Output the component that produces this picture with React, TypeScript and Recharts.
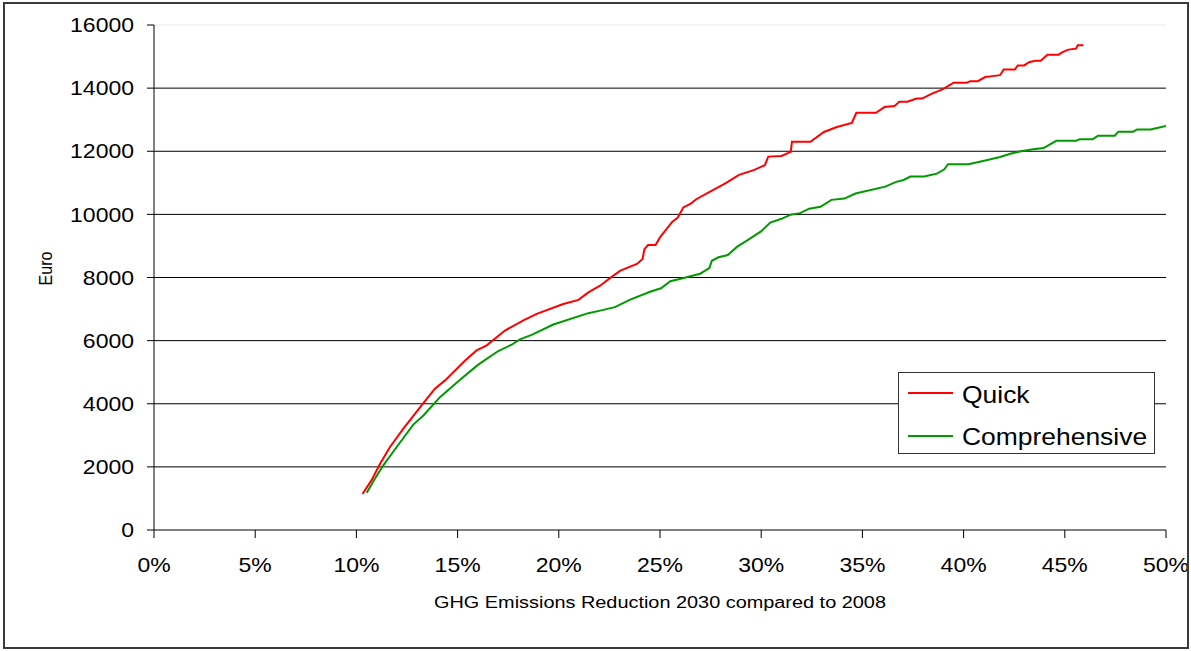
import { LineChart, Line, XAxis, YAxis, CartesianGrid, ReferenceLine, Legend } from 'recharts'

// the original image is stretched sideways, so text gets a small x-scale
const STRETCH = 1.15
const FONT = '"Liberation Sans", Arial, sans-serif'

const quickX = [
  10.3, 10.75, 11.17, 11.66, 12.32, 13.22, 13.88, 14.38, 15.37, 15.94, 16.44, 17.34, 18.25, 18.91,
  20.22, 20.97, 21.46, 22.04, 22.58, 23.04, 23.86, 24.14, 24.23, 24.41, 24.78, 25.0, 25.6, 25.88,
  26.15, 26.52, 26.79, 27.52, 28.25, 28.9, 29.63, 30.18, 30.35, 31.0, 31.46, 31.52, 32.43, 33.1,
  33.74, 34.48, 34.7, 35.67, 36.09, 36.58, 36.82, 37.22, 37.68, 37.95, 38.41, 38.96, 39.51, 40.15,
  40.34, 40.7, 41.07, 41.43, 41.8, 41.98, 42.53, 42.68, 42.99, 43.23, 43.54, 43.81, 44.14, 44.69,
  44.91, 45.18, 45.55, 45.64, 45.92,
]
const quickY = [
  1140, 1580, 2100, 2630, 3210, 3950, 4480, 4740, 5370, 5690, 5850, 6320, 6640, 6850,
  7160, 7290, 7530, 7740, 8005, 8216, 8430, 8590, 8900, 9030, 9030, 9270, 9760, 9900,
  10220, 10340, 10480, 10740, 10990, 11250, 11400, 11560, 11830, 11850, 11980, 12300, 12300, 12610,
  12770, 12900, 13220, 13220, 13400, 13430, 13570, 13570, 13670, 13670, 13820, 13960, 14170, 14170,
  14220, 14220, 14350, 14380, 14410, 14590, 14590, 14720, 14720, 14820, 14870, 14870, 15060, 15060,
  15150, 15220, 15250, 15360, 15360,
]

const compX = [
  10.51, 10.92, 11.33, 11.99, 12.81, 13.31, 14.13, 15.12, 16.02, 17.01, 17.67, 18.08, 18.66, 19.73,
  21.46, 22.04, 22.77, 23.5, 24.51, 25.05, 25.51, 25.97, 26.98, 27.44, 27.56, 27.89, 28.35, 28.8,
  29.35, 29.99, 30.45, 31.0, 31.46, 31.92, 32.37, 32.93, 33.47, 34.11, 34.66, 36.13, 36.67, 37.04,
  37.37, 38.05, 38.68, 39.05, 39.23, 40.24, 41.07, 41.8, 42.35, 42.9, 43.44, 43.95, 44.58, 45.55,
  45.73, 46.37, 46.64, 47.47, 47.65, 48.38, 48.57, 49.24, 50.0,
]
const compY = [
  1180, 1630, 2050, 2630, 3340, 3630, 4210, 4760, 5240, 5670, 5870, 6040, 6180, 6510,
  6870, 6950, 7060, 7290, 7550, 7660, 7880, 7950, 8120, 8300, 8530, 8640, 8710, 8970,
  9190, 9460, 9740, 9860, 9990, 10040, 10180, 10240, 10460, 10500, 10660, 10880, 11030, 11090,
  11200, 11200, 11290, 11430, 11590, 11590, 11710, 11820, 11930, 12010, 12060, 12100, 12330, 12330,
  12380, 12380, 12490, 12490, 12620, 12620, 12690, 12690, 12800,
]

const xTicks = [0, 5, 10, 15, 20, 25, 30, 35, 40, 45, 50]
const yTicks = [0, 2000, 4000, 6000, 8000, 10000, 12000, 14000, 16000]
const gridValues = [2000, 4000, 6000, 8000, 10000, 12000, 14000]
const seriesOrder = ['Quick', 'Comprehensive']

const quickData = quickX.map((x, i) => ({ x, y: quickY[i] }))
const compData = compX.map((x, i) => ({ x, y: compY[i] }))

function YTick({ x, y, payload }: any) {
  return (
    <text transform={`translate(${x},${y}) scale(${STRETCH},1)`} textAnchor="end" dy="0.36em"
      fontSize={20} fontFamily={FONT} fill="#000">
      {payload.value}
    </text>
  )
}

function XTick({ x, y, payload }: any) {
  return (
    <text transform={`translate(${x},${y}) scale(${STRETCH},1)`} textAnchor="middle" dy="0.71em"
      fontSize={20} fontFamily={FONT} fill="#000">
      {`${payload.value}%`}
    </text>
  )
}

function XTitle({ viewBox }: any) {
  const cx = viewBox.x + viewBox.width / 2
  return (
    <text transform={`translate(${cx},${viewBox.y + 78}) scale(${STRETCH},1)`} textAnchor="middle"
      fontSize={17.3} fontFamily={FONT} fill="#000">
      GHG Emissions Reduction 2030 compared to 2008
    </text>
  )
}

function YTitle({ viewBox }: any) {
  const cy = viewBox.y + viewBox.height / 2 - 9
  return (
    <text transform={`translate(${viewBox.x + 45},${cy}) scale(${STRETCH},1) rotate(-90)`}
      textAnchor="middle" dy="0.36em" fontSize={16} fontFamily={FONT} fill="#000">
      Euro
    </text>
  )
}

function LegendBox({ payload }: any) {
  const items = [...(payload || [])].sort(
    (a: any, b: any) => seriesOrder.indexOf(a.value) - seriesOrder.indexOf(b.value),
  )
  return (
    <svg width={257} height={82} style={{ display: 'block' }}>
      <rect x={0.5} y={0.5} width={256} height={81} fill="#fff" stroke="#333" />
      {items.map((p: any, i: number) => (
        <g key={p.value}>
          <line x1={10} x2={55} y1={21 + i * 43} y2={21 + i * 43} stroke={p.color} strokeWidth={2} />
          <text transform={`translate(64,${30.5 + i * 42.5}) scale(${STRETCH},1)`}
            fontSize={23} fontFamily={FONT} fill="#000">
            {p.value}
          </text>
        </g>
      ))}
    </svg>
  )
}

export default function App() {
  return (
    <div style={{ position: 'absolute', left: 0, top: 0, width: 1191, height: 651, background: '#fff' }}>
      <LineChart width={1191} height={651} margin={{ top: 25, right: 25, bottom: 0, left: 0 }}>
        <CartesianGrid horizontal vertical={false} horizontalValues={gridValues} stroke="#000" strokeWidth={1} />
        <ReferenceLine y={16000} stroke="#ececec" />
        <XAxis
          type="number"
          dataKey="x"
          domain={[0, 50]}
          ticks={xTicks}
          height={121}
          tickSize={8}
          tickMargin={20}
          axisLine={{ stroke: '#000' }}
          tickLine={{ stroke: '#000' }}
          tick={<XTick />}
          label={<XTitle />}
          allowDataOverflow
        />
        <YAxis
          type="number"
          dataKey="y"
          domain={[0, 16000]}
          ticks={yTicks}
          width={154}
          tickSize={7}
          tickMargin={13}
          axisLine={{ stroke: '#000' }}
          tickLine={{ stroke: '#000' }}
          tick={<YTick />}
          label={<YTitle />}
        />
        <Legend
          layout="vertical"
          align="center"
          verticalAlign="middle"
          width={257}
          height={82}
          wrapperStyle={{ left: 898, top: 372, width: 257, height: 82 }}
          content={<LegendBox />}
        />
        <Line data={quickData} dataKey="y" name="Quick" type="linear" stroke="#ff0000" strokeWidth={2}
          dot={false} activeDot={false} isAnimationActive={false} />
        <Line data={compData} dataKey="y" name="Comprehensive" type="linear" stroke="#009900" strokeWidth={2}
          dot={false} activeDot={false} isAnimationActive={false} />
      </LineChart>
      <div style={{
        position: 'absolute', left: 3, top: 2, width: 1186, height: 647, boxSizing: 'border-box',
        border: '2px solid #3a3a3a', pointerEvents: 'none',
      }} />
    </div>
  )
}
